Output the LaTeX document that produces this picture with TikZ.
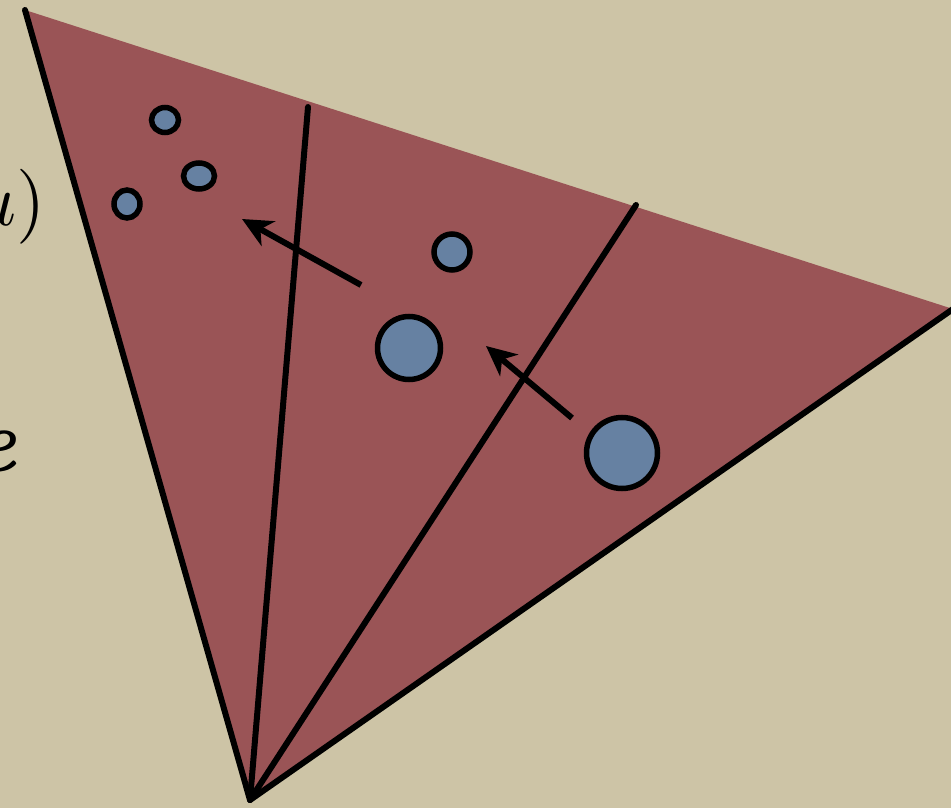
\documentclass[tikz,border=0pt]{standalone}
\usetikzlibrary{shapes.geometric,arrows.meta}
\definecolor{bgc}{RGB}{205,196,166}
\definecolor{redfill}{RGB}{154,84,86}
\definecolor{bluefill}{RGB}{102,129,162}
\begin{document}
\begin{tikzpicture}[x=1pt,y=-1pt,
  dot/.style={ellipse,draw=black,line width=5.5pt,fill=bluefill,inner sep=0pt},
  edge/.style={line width=6pt,line cap=round,line join=round},
  push/.style={line width=6pt,-{Stealth[length=30pt,width=28pt,inset=9pt]}}]
\fill[bgc] (0,0) rectangle (951,808);
\useasboundingbox (0,0) rectangle (951,808);
% vertices
\coordinate (A) at (25,10);
\coordinate (B) at (953,309);
\coordinate (C) at (250,800);
\coordinate (P) at (308,107);
\coordinate (Q) at (636,205);
\fill[redfill] (A) -- (B) -- (C) -- cycle;
% text fragments
\node[anchor=east,inner sep=0pt,scale=7.5] (lbl) at (47,207) {$u)$};
\node[anchor=east,inner sep=0pt,scale=9] (lbl2) at (18,452) {\bfseries\itshape e};
% edges
\draw[edge] (A) -- (C) -- (B);
\draw[edge] (C) -- (P);
\draw[edge] (C) -- (Q);
% dots
\node[dot,minimum width=27pt,minimum height=25pt] (d1) at (165,120) {};
\node[dot,minimum width=31pt,minimum height=26pt] (d2) at (199,176) {};
\node[dot,minimum width=26pt,minimum height=28pt] (d3) at (127,204) {};
\node[dot,minimum width=36pt,minimum height=36pt] (d4) at (452,252) {};
\node[dot,minimum width=63pt,minimum height=63pt] (d5) at (409,348) {};
\node[dot,minimum width=71pt,minimum height=71pt] (d6) at (622,453) {};
% arrows
\coordinate (t1) at (361,285);
\coordinate (h1) at (242,219);
\coordinate (t2) at (572,418);
\coordinate (h2) at (486,346);
\draw[push] (t1) -- (h1);
\draw[push] (t2) -- (h2);
\end{tikzpicture}
\end{document}
